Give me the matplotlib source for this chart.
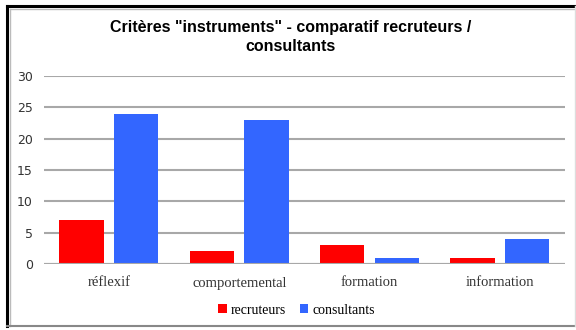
import matplotlib.pyplot as plt
import numpy as np
from matplotlib.lines import Line2D

# --- Données ---
categories = ['réflexif', 'comportemental', 'formation', 'information']
recruteurs = [7, 2, 3, 1]
consultants = [24, 23, 1, 4]
yticks = [0, 5, 10, 15, 20, 25, 30]

rouge = '#FF0000'
bleu = '#3366FF'

fig = plt.figure(figsize=(5.76, 3.30), dpi=100)
ax = fig.add_axes([0.076, 0.2, 0.905, 0.57])

x = np.arange(len(categories))
w = 0.34
ax.bar(x - 0.21, recruteurs, w, color=rouge, label='recruteurs', zorder=3)
ax.bar(x + 0.21, consultants, w, color=bleu, label='consultants', zorder=3)

ax.set_xlim(-0.5, len(categories) - 0.5)
ax.set_ylim(0, 30)
ax.set_yticks(yticks)
ax.set_yticklabels([str(v) for v in yticks], fontsize=9, color='#333333')
ax.set_xticks(x)
ax.set_xticklabels(categories, fontsize=10.5, family='Liberation Serif', color='#333333')
ax.tick_params(length=0, pad=8)
ax.tick_params(axis='x', pad=9)
ax.grid(axis='y', color='#A8A8A8', linewidth=1.5, zorder=0)
for s in ax.spines.values():
    s.set_visible(False)
ax.axhline(0, color='#A8A8A8', linewidth=1.5, zorder=4)

fig.text(0.505, 0.888, 'Critères "instruments" - comparatif recruteurs /\nconsultants',
         ha='center', va='center', fontsize=11.5, fontweight='bold',
         family='Liberation Sans', linespacing=1.35)

fig.legend(loc='center', bbox_to_anchor=(0.515, 0.06), ncol=2, frameon=False,
           prop={'family': 'Liberation Serif', 'size': 10},
           handlelength=0.6, handleheight=0.6, handletextpad=0.3, columnspacing=1.0)

# cadre
fig.add_artist(Line2D([7/576, 7/576], [1 - 6/330, 1 - 326/330], color='black', linewidth=2.2))
fig.add_artist(Line2D([7/576, 575/576], [1 - 6/330, 1 - 6/330], color='black', linewidth=2.2))
fig.add_artist(Line2D([10/576, 10/576], [1 - 9/330, 1 - 326/330], color='#BBBBBB', linewidth=1))
fig.add_artist(Line2D([10/576, 575/576], [1 - 9/330, 1 - 9/330], color='#BBBBBB', linewidth=1))
fig.add_artist(Line2D([7/576, 575/576], [1 - 326/330, 1 - 326/330], color='#888888', linewidth=1.5))
fig.add_artist(Line2D([575/576, 575/576], [1 - 6/330, 1 - 326/330], color='#DDDDDD', linewidth=1))

fig.savefig('out.png', dpi=100)
